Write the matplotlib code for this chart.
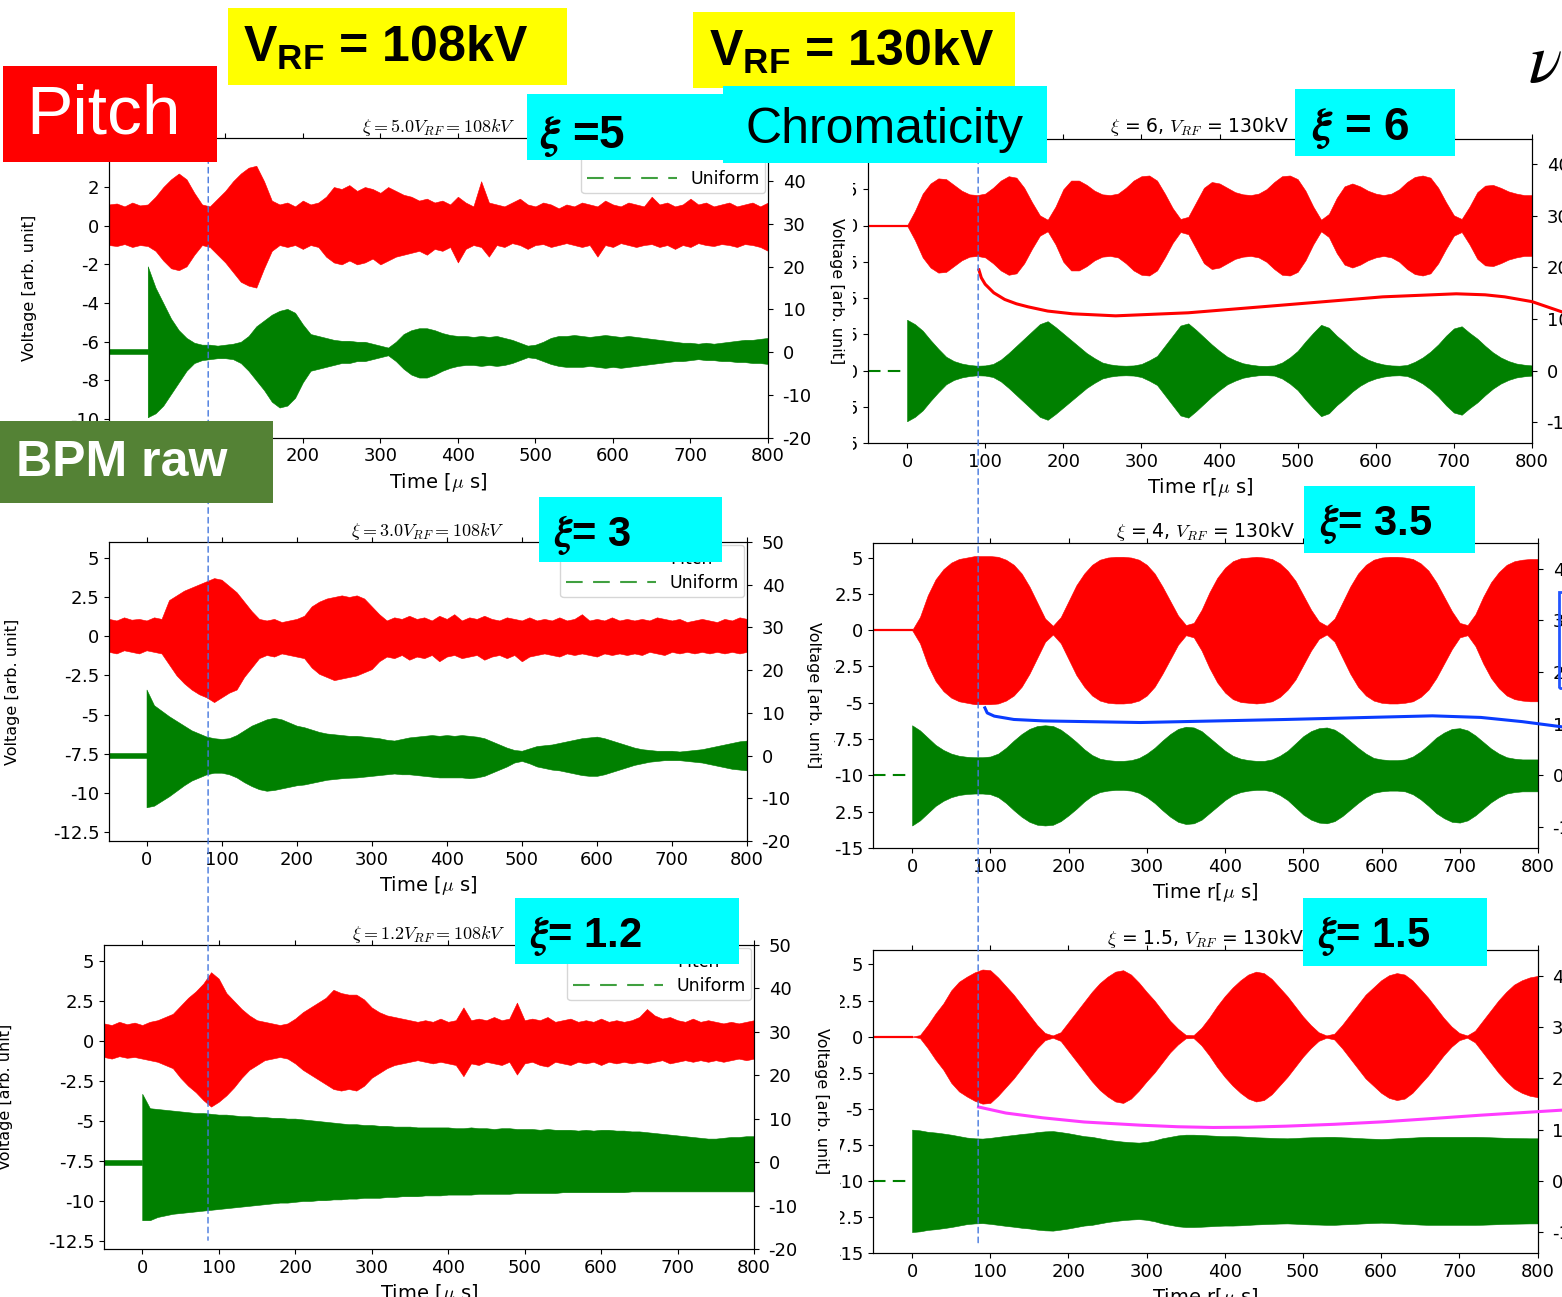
"""BPM raw traces for pitch / uniform filling: three chromaticities at V_RF = 108 kV and 130 kV."""
import numpy as np
import matplotlib
matplotlib.use("Agg")
import matplotlib.pyplot as plt
from matplotlib.lines import Line2D
from matplotlib.patches import Rectangle, ConnectionPatch
from matplotlib.ticker import FormatStrFormatter
from matplotlib.transforms import Bbox, TransformedBbox

W, H = 1562, 1297
RED, GREEN = "#ff0000", "#008000"
SLIDE_FONT = ["Liberation Sans", "DejaVu Sans"]

plt.rcParams.update({
    "axes.unicode_minus": False,
    "font.size": 13,
    "mathtext.rm": "Liberation Sans",
    "mathtext.bf": "Liberation Sans:bold",
    "mathtext.it": "Liberation Sans:italic",
})

# time axes [us]
T_FULL = np.arange(-50, 801, 10)   # pitch traces (left column) start before injection
T_POST = np.arange(0, 801, 10)     # after injection
T_PRE = [-50, 0]
PRE_NOISE = 0.15

# ---- V_RF = 108 kV : pitch trace (upper / lower envelope) ----
XI5_RED_HI = [1.1, 1.15, 1.0, 1.2, 1.05,
              1.1, 1.5, 2.0, 2.4, 2.7, 2.4, 1.7, 1.1, 1.0, 1.4,
              1.8, 2.3, 2.7, 3.0, 3.1, 2.3, 1.3, 1.1, 1.2, 1.0,
              1.3, 1.1, 1.2, 1.5, 2.0, 1.9, 2.1, 1.8, 2.0, 1.9,
              1.7, 2.0, 1.8, 1.6, 1.5, 1.3, 1.4, 1.2, 1.3, 1.1,
              1.5, 1.2, 1.0, 2.3, 1.2, 1.1, 1.0, 1.2, 1.4, 1.1,
              1.0, 1.2, 1.1, 0.9, 1.1, 1.0, 1.2, 1.1, 1.0, 1.3,
              1.1, 1.0, 1.2, 1.1, 1.0, 1.5, 1.1, 1.2, 1.0, 1.1,
              1.4, 1.1, 1.2, 1.0, 1.1, 1.2, 1.0, 1.1, 1.2, 1.0,
              1.2]
XI5_RED_LO = [-1.0, -1.05, -0.95, -1.1, -1.0,
              -1.05, -1.3, -1.8, -2.2, -2.3, -2.1, -1.5, -1.0, -1.1, -1.5,
              -1.9, -2.4, -2.9, -3.1, -3.2, -2.2, -1.3, -1.0, -1.1, -1.0,
              -1.2, -1.0, -1.1, -1.6, -1.9, -2.0, -1.8, -2.0, -1.9, -1.7,
              -2.0, -1.8, -1.6, -1.5, -1.4, -1.3, -1.5, -1.2, -1.3, -1.1,
              -1.9, -1.2, -1.0, -1.1, -1.6, -1.0, -1.1, -0.9, -1.0, -1.2,
              -1.0, -0.95, -1.1, -1.0, -0.9, -1.0, -1.1, -1.0, -1.6, -1.0,
              -1.1, -0.9, -1.0, -1.1, -1.0, -0.95, -1.1, -1.0, -1.2, -1.0,
              -1.1, -0.9, -1.0, -1.05, -0.95, -1.0, -1.1, -0.95, -1.0, -1.1,
              -1.3]
XI3_RED_HI = [1.1, 1.0, 1.2, 1.05, 1.1,
              1.0, 1.2, 1.1, 2.3, 2.6, 2.9, 3.1, 3.3, 3.5, 3.7,
              3.6, 3.2, 2.8, 2.2, 1.6, 1.1, 1.0, 1.1, 0.9, 1.0,
              1.1, 1.3, 1.9, 2.2, 2.4, 2.5, 2.6, 2.5, 2.6, 2.4,
              1.9, 1.4, 1.0, 1.2, 1.1, 1.3, 1.1, 1.2, 1.0, 1.3,
              1.1, 1.4, 1.0, 1.2, 1.1, 1.3, 1.1, 1.0, 1.2, 1.1,
              1.0, 1.2, 1.0, 1.1, 1.0, 1.2, 1.0, 1.1, 1.4, 1.0,
              1.1, 1.0, 1.2, 1.0, 1.1, 1.0, 1.1, 1.0, 1.2, 1.1,
              1.0, 1.1, 0.9, 1.0, 1.1, 1.0, 0.9, 1.1, 1.0, 1.2,
              1.1]
XI3_RED_LO = [-1.0, -1.1, -0.9, -1.0, -1.1,
              -0.9, -1.0, -1.1, -1.8, -2.5, -3.0, -3.4, -3.7, -3.9, -4.2,
              -3.9, -3.6, -3.4, -2.6, -2.0, -1.4, -1.2, -1.3, -1.1, -1.2,
              -1.3, -1.4, -2.0, -2.4, -2.6, -2.8, -2.7, -2.6, -2.5, -2.3,
              -2.1, -1.6, -1.3, -1.4, -1.2, -1.5, -1.3, -1.4, -1.2, -1.6,
              -1.3, -1.2, -1.4, -1.3, -1.2, -1.5, -1.3, -1.2, -1.4, -1.2,
              -1.6, -1.3, -1.2, -1.1, -1.2, -1.3, -1.1, -1.2, -1.1, -1.2,
              -1.3, -1.1, -1.2, -1.1, -1.2, -1.1, -1.2, -1.0, -1.1, -1.2,
              -1.0, -1.1, -1.0, -1.1, -1.0, -1.1, -1.0, -1.1, -1.0, -1.1,
              -1.0]
XI12_RED_HI = [1.1, 1.0, 1.2, 1.05, 1.15,
               1.0, 1.2, 1.3, 1.5, 1.7, 2.2, 2.7, 3.1, 3.6, 4.3,
               3.9, 3.0, 2.5, 2.0, 1.6, 1.3, 1.2, 1.1, 1.0, 1.1,
               1.4, 1.8, 2.1, 2.4, 2.7, 3.2, 3.0, 2.9, 2.9, 2.6,
               2.1, 1.8, 1.6, 1.5, 1.4, 1.3, 1.2, 1.3, 1.2, 1.4,
               1.2, 1.3, 2.1, 1.3, 1.4, 1.3, 1.5, 1.3, 1.4, 2.4,
               1.3, 1.4, 1.3, 1.5, 1.2, 1.3, 1.4, 1.2, 1.3, 1.2,
               1.4, 1.2, 1.3, 1.2, 1.3, 1.5, 2.0, 1.6, 1.4, 1.5,
               1.3, 1.2, 1.4, 1.2, 1.3, 1.2, 1.1, 1.2, 1.1, 1.2,
               1.3]
XI12_RED_LO = [-1.0, -1.1, -0.95, -1.05, -1.0,
               -1.1, -1.2, -1.3, -1.5, -1.7, -2.3, -2.8, -3.2, -3.7, -4.1,
               -3.8, -3.4, -2.9, -2.3, -1.8, -1.5, -1.2, -1.1, -1.0, -1.1,
               -1.4, -1.8, -2.1, -2.4, -2.7, -3.0, -3.1, -3.0, -3.1, -2.8,
               -2.3, -2.0, -1.7, -1.5, -1.4, -1.3, -1.2, -1.3, -1.4, -1.3,
               -1.4, -1.5, -2.2, -1.4, -1.5, -1.3, -1.4, -1.5, -1.3, -2.1,
               -1.4, -1.3, -1.5, -1.6, -1.3, -1.4, -1.5, -1.3, -1.4, -1.3,
               -1.5, -1.3, -1.4, -1.3, -1.4, -1.3, -1.4, -1.3, -1.2, -1.4,
               -1.3, -1.2, -1.3, -1.2, -1.3, -1.2, -1.3, -1.2, -1.1, -1.2,
               -1.1]

# ---- V_RF = 108 kV : uniform trace, excursion above / below its baseline ----
XI5_GRN_HI = [4.4, 3.3, 2.5, 1.7, 1.1, 0.7, 0.45, 0.35, 0.35, 0.3,
              0.35, 0.4, 0.5, 0.8, 1.3, 1.6, 1.9, 2.1, 2.2, 2.0,
              1.4, 0.9, 0.8, 0.7, 0.6, 0.55, 0.55, 0.5, 0.5, 0.4,
              0.3, 0.2, 0.5, 0.9, 1.1, 1.2, 1.2, 1.1, 0.95, 0.85,
              0.8, 0.8, 0.75, 0.8, 0.75, 0.8, 0.7, 0.6, 0.45, 0.3,
              0.35, 0.5, 0.7, 0.8, 0.8, 0.85, 0.8, 0.75, 0.8, 0.85,
              0.8, 0.75, 0.8, 0.75, 0.7, 0.65, 0.6, 0.55, 0.5, 0.45,
              0.45, 0.4, 0.45, 0.4, 0.45, 0.5, 0.55, 0.6, 0.6, 0.65,
              0.7]
XI5_GRN_LO = [3.4, 3.2, 2.8, 2.2, 1.6, 1.0, 0.6, 0.45, 0.4, 0.35,
              0.35, 0.4, 0.6, 1.0, 1.5, 2.0, 2.6, 2.9, 2.8, 2.4,
              1.6, 1.0, 0.9, 0.8, 0.7, 0.6, 0.6, 0.5, 0.5, 0.4,
              0.3, 0.2, 0.5, 0.9, 1.2, 1.35, 1.35, 1.2, 1.0, 0.85,
              0.75, 0.7, 0.7, 0.75, 0.7, 0.75, 0.7, 0.6, 0.45, 0.3,
              0.35, 0.5, 0.65, 0.75, 0.8, 0.8, 0.8, 0.75, 0.8, 0.85,
              0.8, 0.85, 0.8, 0.75, 0.7, 0.65, 0.6, 0.55, 0.5, 0.5,
              0.45, 0.4, 0.45, 0.45, 0.5, 0.5, 0.55, 0.55, 0.6, 0.6,
              0.65]
XI3_GRN_HI = [4.2, 3.2, 2.85, 2.5, 2.2, 1.9, 1.6, 1.4, 1.2, 1.1,
              1.05, 1.1, 1.3, 1.6, 1.9, 2.1, 2.3, 2.4, 2.3, 2.1,
              1.9, 1.8, 1.65, 1.5, 1.4, 1.35, 1.3, 1.25, 1.25, 1.2,
              1.15, 1.1, 1.0, 0.95, 1.05, 1.15, 1.2, 1.25, 1.3, 1.25,
              1.3, 1.25, 1.3, 1.25, 1.2, 1.1, 0.9, 0.7, 0.5, 0.35,
              0.3, 0.45, 0.6, 0.65, 0.7, 0.8, 0.9, 1.0, 1.1, 1.15,
              1.2, 1.1, 0.95, 0.8, 0.65, 0.5, 0.4, 0.35, 0.3, 0.3,
              0.3, 0.25, 0.3, 0.35, 0.4, 0.5, 0.6, 0.7, 0.8, 0.9,
              0.95]
XI3_GRN_LO = [3.3, 3.2, 2.9, 2.6, 2.25, 1.9, 1.6, 1.4, 1.2, 1.1,
              1.1, 1.2, 1.4, 1.7, 1.95, 2.15, 2.25, 2.2, 2.1, 2.0,
              1.9, 1.85, 1.75, 1.65, 1.55, 1.5, 1.45, 1.42, 1.4, 1.35,
              1.3, 1.25, 1.2, 1.15, 1.2, 1.2, 1.25, 1.3, 1.35, 1.4,
              1.4, 1.4, 1.4, 1.45, 1.4, 1.3, 1.1, 0.9, 0.7, 0.45,
              0.35, 0.5, 0.7, 0.8, 0.9, 0.95, 1.05, 1.15, 1.25, 1.3,
              1.3, 1.2, 1.05, 0.9, 0.75, 0.6, 0.5, 0.4, 0.35, 0.3,
              0.3, 0.3, 0.35, 0.4, 0.45, 0.55, 0.65, 0.75, 0.85, 0.9,
              0.95]
XI12_GRN_HI = [4.3, 3.4, 3.35, 3.3, 3.25, 3.2, 3.15, 3.1, 3.1, 3.05,
               3.0, 3.0, 2.95, 2.9, 2.9, 2.85, 2.85, 2.8, 2.8, 2.75,
               2.75, 2.7, 2.65, 2.6, 2.55, 2.5, 2.45, 2.4, 2.4, 2.35,
               2.35, 2.3, 2.3, 2.25, 2.25, 2.25, 2.2, 2.2, 2.2, 2.2,
               2.2, 2.15, 2.15, 2.2, 2.15, 2.15, 2.1, 2.15, 2.15, 2.1,
               2.1, 2.1, 2.05, 2.1, 2.05, 2.05, 2.05, 2.0, 2.05, 2.0,
               2.05, 2.05, 2.0, 2.0, 1.95, 1.95, 1.9, 1.85, 1.8, 1.75,
               1.7, 1.65, 1.6, 1.55, 1.5, 1.5, 1.55, 1.6, 1.6, 1.65,
               1.65]
XI12_GRN_LO = [3.6, 3.6, 3.4, 3.3, 3.2, 3.15, 3.1, 3.05, 3.0, 2.95,
               2.9, 2.85, 2.8, 2.75, 2.7, 2.65, 2.6, 2.55, 2.5, 2.5,
               2.45, 2.4, 2.4, 2.35, 2.35, 2.3, 2.3, 2.25, 2.25, 2.2,
               2.2, 2.2, 2.15, 2.15, 2.1, 2.1, 2.1, 2.05, 2.05, 2.05,
               2.0, 2.0, 2.0, 2.0, 1.95, 1.95, 1.95, 1.95, 1.95, 1.9,
               1.9, 1.9, 1.9, 1.9, 1.9, 1.85, 1.85, 1.85, 1.85, 1.85,
               1.85, 1.85, 1.85, 1.85, 1.8, 1.8, 1.8, 1.8, 1.8, 1.8,
               1.8, 1.8, 1.8, 1.8, 1.8, 1.8, 1.8, 1.8, 1.8, 1.8,
               1.8]

# ---- V_RF = 130 kV : simulated amplitude envelopes ----
XI6_RED = [0.0, 1.0, 2.2, 2.9, 3.25, 3.2, 2.8, 2.4, 2.15, 2.1,
           2.2, 2.6, 3.1, 3.4, 3.3, 2.6, 1.6, 0.7, 0.4, 1.3,
           2.5, 3.1, 3.1, 2.8, 2.4, 2.15, 2.1, 2.2, 2.6, 3.1,
           3.4, 3.45, 3.1, 2.2, 1.2, 0.45, 0.6, 1.6, 2.6, 3.0,
           2.9, 2.6, 2.3, 2.15, 2.1, 2.2, 2.5, 3.0, 3.4, 3.45,
           3.2, 2.4, 1.3, 0.4, 0.8, 1.9, 2.7, 2.9, 2.7, 2.4,
           2.2, 2.1, 2.2, 2.5, 3.0, 3.35, 3.45, 3.3, 2.6, 1.6,
           0.7, 0.45, 1.3, 2.3, 2.75, 2.8, 2.6, 2.35, 2.2, 2.1,
           2.1]
XI6_GRN = [3.5, 3.2, 2.75, 2.1, 1.5, 0.95, 0.65, 0.48, 0.38, 0.33,
           0.35, 0.45, 0.75, 1.2, 1.7, 2.2, 2.7, 3.2, 3.4, 3.0,
           2.55, 2.1, 1.65, 1.2, 0.85, 0.55, 0.42, 0.35, 0.33, 0.35,
           0.45, 0.7, 1.0, 1.7, 2.4, 3.1, 3.25, 2.8, 2.3, 1.8,
           1.35, 0.95, 0.7, 0.5, 0.4, 0.33, 0.32, 0.35, 0.55, 0.9,
           1.35, 2.0, 2.6, 3.15, 2.95, 2.4, 1.95, 1.45, 1.05, 0.75,
           0.55, 0.42, 0.35, 0.33, 0.38, 0.6, 0.9, 1.3, 1.8, 2.4,
           2.9, 3.05, 2.6, 2.2, 1.7, 1.25, 0.9, 0.65, 0.48, 0.4,
           0.35]
XI4_RED = [0.0, 0.9, 2.4, 3.5, 4.2, 4.65, 4.9, 5.0, 5.1, 5.1,
           5.1, 5.05, 4.85, 4.5, 3.9, 3.0, 1.9, 0.8, 0.3, 0.9,
           2.0, 3.1, 3.9, 4.5, 4.85, 5.0, 5.05, 5.05, 5.0, 4.85,
           4.5, 3.9, 3.0, 2.0, 1.0, 0.35, 0.5, 1.4, 2.6, 3.6,
           4.3, 4.75, 4.95, 5.0, 5.05, 5.0, 4.9, 4.6, 4.1, 3.4,
           2.4, 1.4, 0.6, 0.3, 0.8, 1.9, 3.0, 3.9, 4.5, 4.85,
           5.0, 5.05, 5.05, 5.0, 4.9, 4.6, 4.1, 3.3, 2.3, 1.3,
           0.5, 0.35, 1.1, 2.3, 3.3, 4.0, 4.5, 4.75, 4.85, 4.9,
           4.9]
XI4_GRN = [3.45, 3.1, 2.6, 2.1, 1.75, 1.5, 1.35, 1.28, 1.25, 1.25,
           1.3, 1.5, 1.9, 2.4, 2.85, 3.2, 3.4, 3.45, 3.4, 3.15,
           2.75, 2.3, 1.8, 1.4, 1.15, 1.05, 1.0, 1.0, 1.05, 1.2,
           1.5, 1.9, 2.4, 2.85, 3.2, 3.35, 3.3, 3.05, 2.6, 2.15,
           1.7, 1.35, 1.15, 1.05, 1.0, 1.0, 1.1, 1.35, 1.7, 2.2,
           2.7, 3.05, 3.25, 3.3, 3.15, 2.8, 2.35, 1.9, 1.5, 1.2,
           1.1, 1.05, 1.05, 1.1, 1.3, 1.65, 2.1, 2.6, 2.95, 3.2,
           3.25, 3.1, 2.75, 2.3, 1.85, 1.5, 1.25, 1.15, 1.1, 1.1,
           1.1]
XI15_RED = [0.0, 0.1, 0.8, 1.6, 2.3, 3.2, 3.8, 4.15, 4.45, 4.65,
            4.6, 4.1, 3.5, 2.9, 2.2, 1.5, 0.8, 0.25, 0.08, 0.3,
            1.0, 1.7, 2.4, 3.1, 3.7, 4.15, 4.5, 4.6, 4.3, 3.75,
            3.1, 2.5, 1.8, 1.1, 0.55, 0.12, 0.1, 0.6, 1.3, 2.1,
            2.8, 3.4, 3.9, 4.3, 4.5, 4.4, 4.0, 3.4, 2.8, 2.1,
            1.4, 0.8, 0.3, 0.08, 0.2, 0.8, 1.5, 2.2, 2.9, 3.4,
            3.9, 4.25, 4.4, 4.3, 3.9, 3.3, 2.7, 2.0, 1.3, 0.7,
            0.25, 0.08, 0.4, 1.1, 1.8, 2.5, 3.1, 3.6, 3.9, 4.1,
            4.2]
XI15_GRN = [3.55, 3.5, 3.4, 3.35, 3.28, 3.2, 3.1, 3.0, 2.95, 2.93,
            2.98, 3.05, 3.12, 3.18, 3.25, 3.3, 3.38, 3.43, 3.45, 3.38,
            3.3, 3.2, 3.1, 3.05, 2.95, 2.85, 2.78, 2.72, 2.68, 2.65,
            2.7, 2.8, 2.95, 3.05, 3.15, 3.2, 3.2, 3.18, 3.15, 3.12,
            3.1, 3.1, 3.08, 3.05, 3.02, 3.0, 2.98, 2.96, 2.95, 2.97,
            3.0, 3.02, 3.03, 3.05, 3.05, 3.02, 3.0, 2.97, 2.94, 2.92,
            2.9, 2.92, 2.95, 2.98, 3.0, 3.03, 3.05, 3.05, 3.05, 3.05,
            3.05, 3.05, 3.05, 3.04, 3.02, 3.0, 2.98, 2.97, 2.96, 2.95,
            2.95]

# tune-shift curves laid over the 130 kV traces (time [us], panel units)
TUNE_XI6_T = [92, 95, 100, 111, 125, 140, 155, 180, 212, 267, 360, 485, 609, 703, 740, 765, 800, 838]
TUNE_XI6_V = [-3.06, -3.6, -4.05, -4.64, -5.1, -5.4, -5.61, -5.9, -6.09, -6.23, -6.02,
              -5.47, -4.92, -4.71, -4.78, -4.92, -5.25, -5.95]
TUNE_XI35_T = [93, 96, 105, 130, 168, 292, 478, 665, 727, 780, 831]
TUNE_XI35_V = [-5.35, -5.7, -5.92, -6.15, -6.25, -6.36, -6.15, -5.9, -6.01, -6.3, -6.66]
TUNE_XI15_T = [85, 120, 167, 220, 292, 340, 385, 430, 478, 540, 602, 660, 727, 831]
TUNE_XI15_V = [-4.88, -5.3, -5.63, -5.92, -6.14, -6.25, -6.30, -6.28, -6.21, -6.08,
               -5.91, -5.7, -5.45, -5.10]

# injection-time marker [us] as read on the top / bottom panel of each column
MARK_LEFT = (78, 86)
MARK_RIGHT = (91, 84.5)


def px_rect(l, t, r, b):
    return [l / W, 1 - b / H, (r - l) / W, (b - t) / H]


fig = plt.figure(figsize=(W / 100, H / 100), dpi=100)


def frame(rect, ylim, yticks, tlim, tticks, title, title_size, xlabel, ylab_x, ylab_rot):
    ax = fig.add_axes(px_rect(*rect))
    ax.set_xlim(-50, 800)
    ax.set_xticks(np.arange(0, 801, 100))
    ax.set_ylim(*ylim)
    ax.set_yticks(yticks)
    ax.yaxis.set_major_formatter(FormatStrFormatter("%g"))
    ax.tick_params(top=True, labelsize=13)
    ax.set_title(title, fontsize=title_size, pad=3, math_fontfamily="cm")
    ax.set_xlabel(xlabel, fontsize=14, math_fontfamily="cm")
    ax.set_ylabel("Voltage [arb. unit]", fontsize=11.5, rotation=ylab_rot)
    ax.yaxis.set_label_coords(ylab_x, 0.5)
    ax.yaxis.label.set(va="center", ha="center")
    tw = ax.twinx()
    tw.set_ylim(*tlim)
    tw.set_yticks(tticks)
    tw.tick_params(labelsize=13, pad=7)
    return ax, tw


def pitch_panel(rect, title, ylim, yticks, red_hi, red_lo, grn_hi, grn_lo, grn_base, ylab_x):
    ax, tw = frame(rect, ylim, yticks, (-20, 50), np.arange(-20, 51, 10),
                   title, 13, r"Time [$\mu$ s]", ylab_x, 90)
    ax.fill_between(T_FULL, red_lo, red_hi, color=RED, lw=0.4)
    ax.fill_between(T_PRE, grn_base - PRE_NOISE, grn_base + PRE_NOISE, color=GREEN, lw=0.4)
    ax.fill_between(T_POST, grn_base - np.array(grn_lo), grn_base + np.array(grn_hi),
                    color=GREEN, lw=0.4)
    handles = [Line2D([], [], color=RED, lw=1.5, alpha=0.8, label="Pitch"),
               Line2D([], [], color=GREEN, lw=1.5, ls=(0, (8, 5)), alpha=0.75, label="Uniform")]
    ax.legend(handles=handles, loc="upper right", fontsize=12.5, handlelength=5.2,
              borderaxespad=0.15, borderpad=0.3, labelspacing=0.35)
    return ax


def uniform_panel(rect, title, red_amp, grn_amp, tune_t, tune_v, tune_color, ylab_x, clip_x):
    grn_base = -10
    ax, tw = frame(rect, (-15, 6), np.arange(-15, 5.1, 2.5), (-14.06, 45), np.arange(-10, 41, 10),
                   title, 13.5, r"Time r[$\mu$ s]", ylab_x, 270)
    red_amp, grn_amp = np.array(red_amp), np.array(grn_amp)
    ax.plot(T_PRE, [0, 0], color=RED, lw=1.6)
    ax.fill_between(T_POST, -red_amp, red_amp, color=RED, lw=0.4)
    ax.plot(T_PRE, [grn_base, grn_base], color=GREEN, lw=1.5, ls=(0, (6, 3.5)))
    ax.fill_between(T_POST, grn_base - grn_amp, grn_base + grn_amp, color=GREEN, lw=0.4)
    # tune curve sits on top of the right spine and runs off to the page edge
    tw.plot(tune_t, tune_v, color=tune_color, lw=2.2, transform=ax.transData,
            clip_on=False, zorder=5)
    tw.set_ylim(-14.06, 45)
    # left-hand tick labels are partly hidden behind the neighbouring plot
    clip = TransformedBbox(Bbox([[clip_x / W, 0], [1, 1]]), fig.transFigure)
    for lab in ax.get_yticklabels():
        lab.set_clip_box(clip)
        lab.set_clip_on(True)
    return ax


ax1 = pitch_panel((109, 138.3, 768, 437.5), r"$\xi = 5.0 V_{RF} = 108kV$", (-10.95, 4.52),
                  np.arange(-10, 4.1, 2), XI5_RED_HI, XI5_RED_LO, XI5_GRN_HI, XI5_GRN_LO,
                  -6.5, -0.12)
ax3 = pitch_panel((109, 542, 747, 841), r"$\xi = 3.0 V_{RF} = 108kV$", (-13.05, 6.0),
                  np.arange(-12.5, 5.1, 2.5), XI3_RED_HI, XI3_RED_LO, XI3_GRN_HI, XI3_GRN_LO,
                  -7.6, -0.152)
ax5 = pitch_panel((104, 945, 754, 1249), r"$\xi = 1.2 V_{RF} = 108kV$", (-13.0, 6.0),
                  np.arange(-12.5, 5.1, 2.5), XI12_RED_HI, XI12_RED_LO, XI12_GRN_HI, XI12_GRN_LO,
                  -7.6, -0.152)

ax2 = uniform_panel((868, 138.5, 1532, 443), r"$\xi$ = 6, $V_{RF}$ = 130kV", XI6_RED, XI6_GRN,
                    TUNE_XI6_T, TUNE_XI6_V, "#ff0000", -0.048, 853)
ax4 = uniform_panel((873, 543, 1538, 848), r"$\xi$ = 4, $V_{RF}$ = 130kV", XI4_RED, XI4_GRN,
                    TUNE_XI35_T, TUNE_XI35_V, "#0a3cff", -0.09, 834)
ax6 = uniform_panel((873, 950, 1537.5, 1253), r"$\xi$ = 1.5, $V_{RF}$ = 130kV", XI15_RED, XI15_GRN,
                    TUNE_XI15_T, TUNE_XI15_V, "#ff3cff", -0.077, 840)

# injection-time guide through each column
for (a_top, a_bot, (t_top, t_bot)) in [(ax1, ax5, MARK_LEFT), (ax2, ax6, MARK_RIGHT)]:
    con = ConnectionPatch(xyA=(t_top, a_top.get_ylim()[1]), coordsA=a_top.transData,
                          xyB=(t_bot, a_bot.get_ylim()[0] + 0.55), coordsB=a_bot.transData,
                          color="#4477dd", lw=1.0, ls=(0, (4, 3)), zorder=6)
    fig.add_artist(con)


# slide labels
def slide_box(l, t, r, b, color, **kw):
    fig.add_artist(Rectangle((l / W, 1 - b / H), (r - l) / W, (b - t) / H,
                             transform=fig.transFigure, zorder=10, **kw,
                             facecolor=color if color else "none"))


def slide_text(x, y, s, size, color="black", weight="normal", math="custom"):
    fig.text(x / W, 1 - y / H, s, fontsize=size, color=color, fontweight=weight,
             family=SLIDE_FONT, math_fontfamily=math, va="baseline", ha="left", zorder=11)


slide_box(228, 8, 567, 85, "#ffff00", edgecolor="none")
slide_box(693, 12, 1015, 88, "#ffff00", edgecolor="none")
slide_box(3, 66, 217, 162, "#ff0000", edgecolor="none")
slide_box(0, 421, 273, 503, "#548235", edgecolor="none")
for box in [(527, 94, 723, 160), (723, 86, 1047, 163), (1295, 89, 1455, 156),
            (539, 497, 722, 562), (1304, 486, 1475, 553), (515, 898, 739, 964),
            (1303, 898, 1487, 966)]:
    slide_box(*box, "#00ffff", edgecolor="none")
slide_box(1559, 592, 1620, 688, None, edgecolor="#2255ff", lw=2)

slide_text(243, 62, r"$\mathbf{V_{RF}}$ = 108kV", 36, weight="bold")
slide_text(709, 66, r"$\mathbf{V_{RF}}$ = 130kV", 36, weight="bold")
slide_text(26, 133, "Pitch", 50, color="white")
slide_text(745, 143, "Chromaticity", 36)
slide_text(16, 476, "BPM raw", 36, color="white", weight="bold")
slide_text(540, 148, r"$\boldsymbol{\xi}$ =5", 33, weight="bold", math="stix")
slide_text(1312, 140, r"$\boldsymbol{\xi}$ = 6", 33, weight="bold", math="stix")
slide_text(554, 546, r"$\boldsymbol{\xi}$= 3", 30, weight="bold", math="stix")
slide_text(1320, 535, r"$\boldsymbol{\xi}$= 3.5", 30, weight="bold", math="stix")
slide_text(530, 947, r"$\boldsymbol{\xi}$= 1.2", 30, weight="bold", math="stix")
slide_text(1318, 947, r"$\boldsymbol{\xi}$= 1.5", 30, weight="bold", math="stix")
slide_text(1528, 82, r"$\nu$", 50, math="stix")

fig.savefig("out.png", dpi=100)
